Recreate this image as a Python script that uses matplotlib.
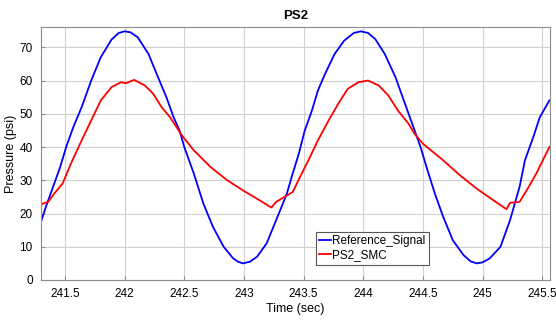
import numpy as np
import matplotlib
matplotlib.use("Agg")
import matplotlib.pyplot as plt

matplotlib.rcParams.update({
    "font.family": ["Liberation Sans", "DejaVu Sans"],
    "font.size": 8.5,
    "axes.titlesize": 9.5,
    "axes.labelsize": 9,
    "xtick.labelsize": 8.5,
    "ytick.labelsize": 8.5,
    "legend.fontsize": 8.5,
})

# ── data ────────────────────────────────────────────────────────────────────
t_ref = [241.29, 241.34, 241.40, 241.46, 241.51, 241.57, 241.64, 241.72, 241.80,
         241.89, 241.95, 242.00, 242.05, 242.11, 242.20, 242.28, 242.35, 242.41,
         242.46, 242.50, 242.58, 242.66, 242.74, 242.83, 242.91, 242.95, 242.99,
         243.05, 243.11, 243.19, 243.27, 243.36, 243.40, 243.46, 243.51, 243.57,
         243.62, 243.68, 243.76, 243.84, 243.92, 243.98, 244.04, 244.10, 244.18,
         244.27, 244.35, 244.41, 244.48, 244.53, 244.60, 244.67, 244.75, 244.84,
         244.90, 244.95, 245.00, 245.06, 245.15, 245.23, 245.31, 245.355, 245.425,
         245.48, 245.56]
p_ref = [16.5, 22, 28, 34, 40, 46, 52, 60, 67,
         72.3, 74.3, 74.8, 74.5, 73, 68, 61, 55, 49,
         45, 40, 32, 23, 16, 10, 6.5, 5.5, 5,
         5.5, 7, 11, 18, 26, 31, 38, 45, 51,
         57, 62, 68, 72, 74.3, 74.8, 74.3, 72.5, 68,
         61, 53, 47, 40, 34, 26, 19, 12, 7.5,
         5.6, 5, 5.3, 6.5, 10, 18, 28, 36, 43,
         49, 54]

t_smc = [241.29, 241.36, 241.41, 241.48, 241.55, 241.64, 241.72, 241.80, 241.89,
         241.97, 242.01, 242.08, 242.17, 242.24, 242.31, 242.38, 242.48, 242.58,
         242.72, 242.86, 242.99, 243.13, 243.23, 243.27, 243.34, 243.41, 243.47,
         243.54, 243.62, 243.71, 243.79, 243.87, 243.96, 244.04, 244.13, 244.21,
         244.29, 244.38, 244.43, 244.50, 244.67, 244.81, 244.95, 245.09, 245.20,
         245.23, 245.31, 245.37, 245.45, 245.56]
p_smc = [22.7, 23.5, 26, 29, 35, 42, 48, 54, 58,
         59.5, 59.2, 60.2, 58.5, 56, 52, 49, 43.5, 39,
         34, 30, 27, 24, 21.8, 23.5, 25, 26.5, 31,
         36, 42, 48, 53, 57.5, 59.5, 60, 58.5, 55.5,
         51, 47, 44, 41, 36, 31.5, 27.5, 24, 21.3,
         23.2, 23.5, 27, 32, 40]

X_TICKS = [241.5, 242, 242.5, 243, 243.5, 244, 244.5, 245, 245.5]
X_LABELS = ["241.5", "242", "242.5", "243", "243.5", "244", "244.5", "245", "245.5"]
Y_TICKS = [0, 10, 20, 30, 40, 50, 60, 70]

# ── figure ──────────────────────────────────────────────────────────────────
fig = plt.figure(figsize=(5.56, 3.20), dpi=100)
ax = fig.add_axes([0.0737, 0.125, 0.9155, 0.7906])

ax.plot(t_ref, p_ref, color="#0000ff", lw=1.3, label="Reference_Signal")
ax.plot(t_smc, p_smc, color="#ff0000", lw=1.3, label="PS2_SMC")

ax.set_xlim(241.299, 245.565)
ax.set_ylim(0, 76.1)
ax.set_xticks(X_TICKS)
ax.set_xticklabels(X_LABELS)
ax.set_yticks(Y_TICKS)
ax.grid(True, color="#d0d0d0", lw=0.8)
ax.set_axisbelow(True)
for sp in ax.spines.values():
    sp.set_color("#8c8c8c")
    sp.set_linewidth(0.8)
ax.tick_params(direction="in", length=3, color="#8c8c8c", pad=6)

ax.set_title("PS2", fontweight="bold", pad=6)
ax.set_xlabel("Time (sec)", labelpad=2)
ax.set_ylabel("Pressure (psi)", labelpad=2)

leg = ax.legend(loc="lower left", bbox_to_anchor=(0.54, 0.059), borderaxespad=0,
                handlelength=1.0, handletextpad=0.1, borderpad=0.3,
                labelspacing=0.2, fancybox=False, framealpha=1)
leg.get_frame().set_edgecolor("#555555")
leg.get_frame().set_linewidth(0.8)

fig.savefig("out.png", dpi=100)
